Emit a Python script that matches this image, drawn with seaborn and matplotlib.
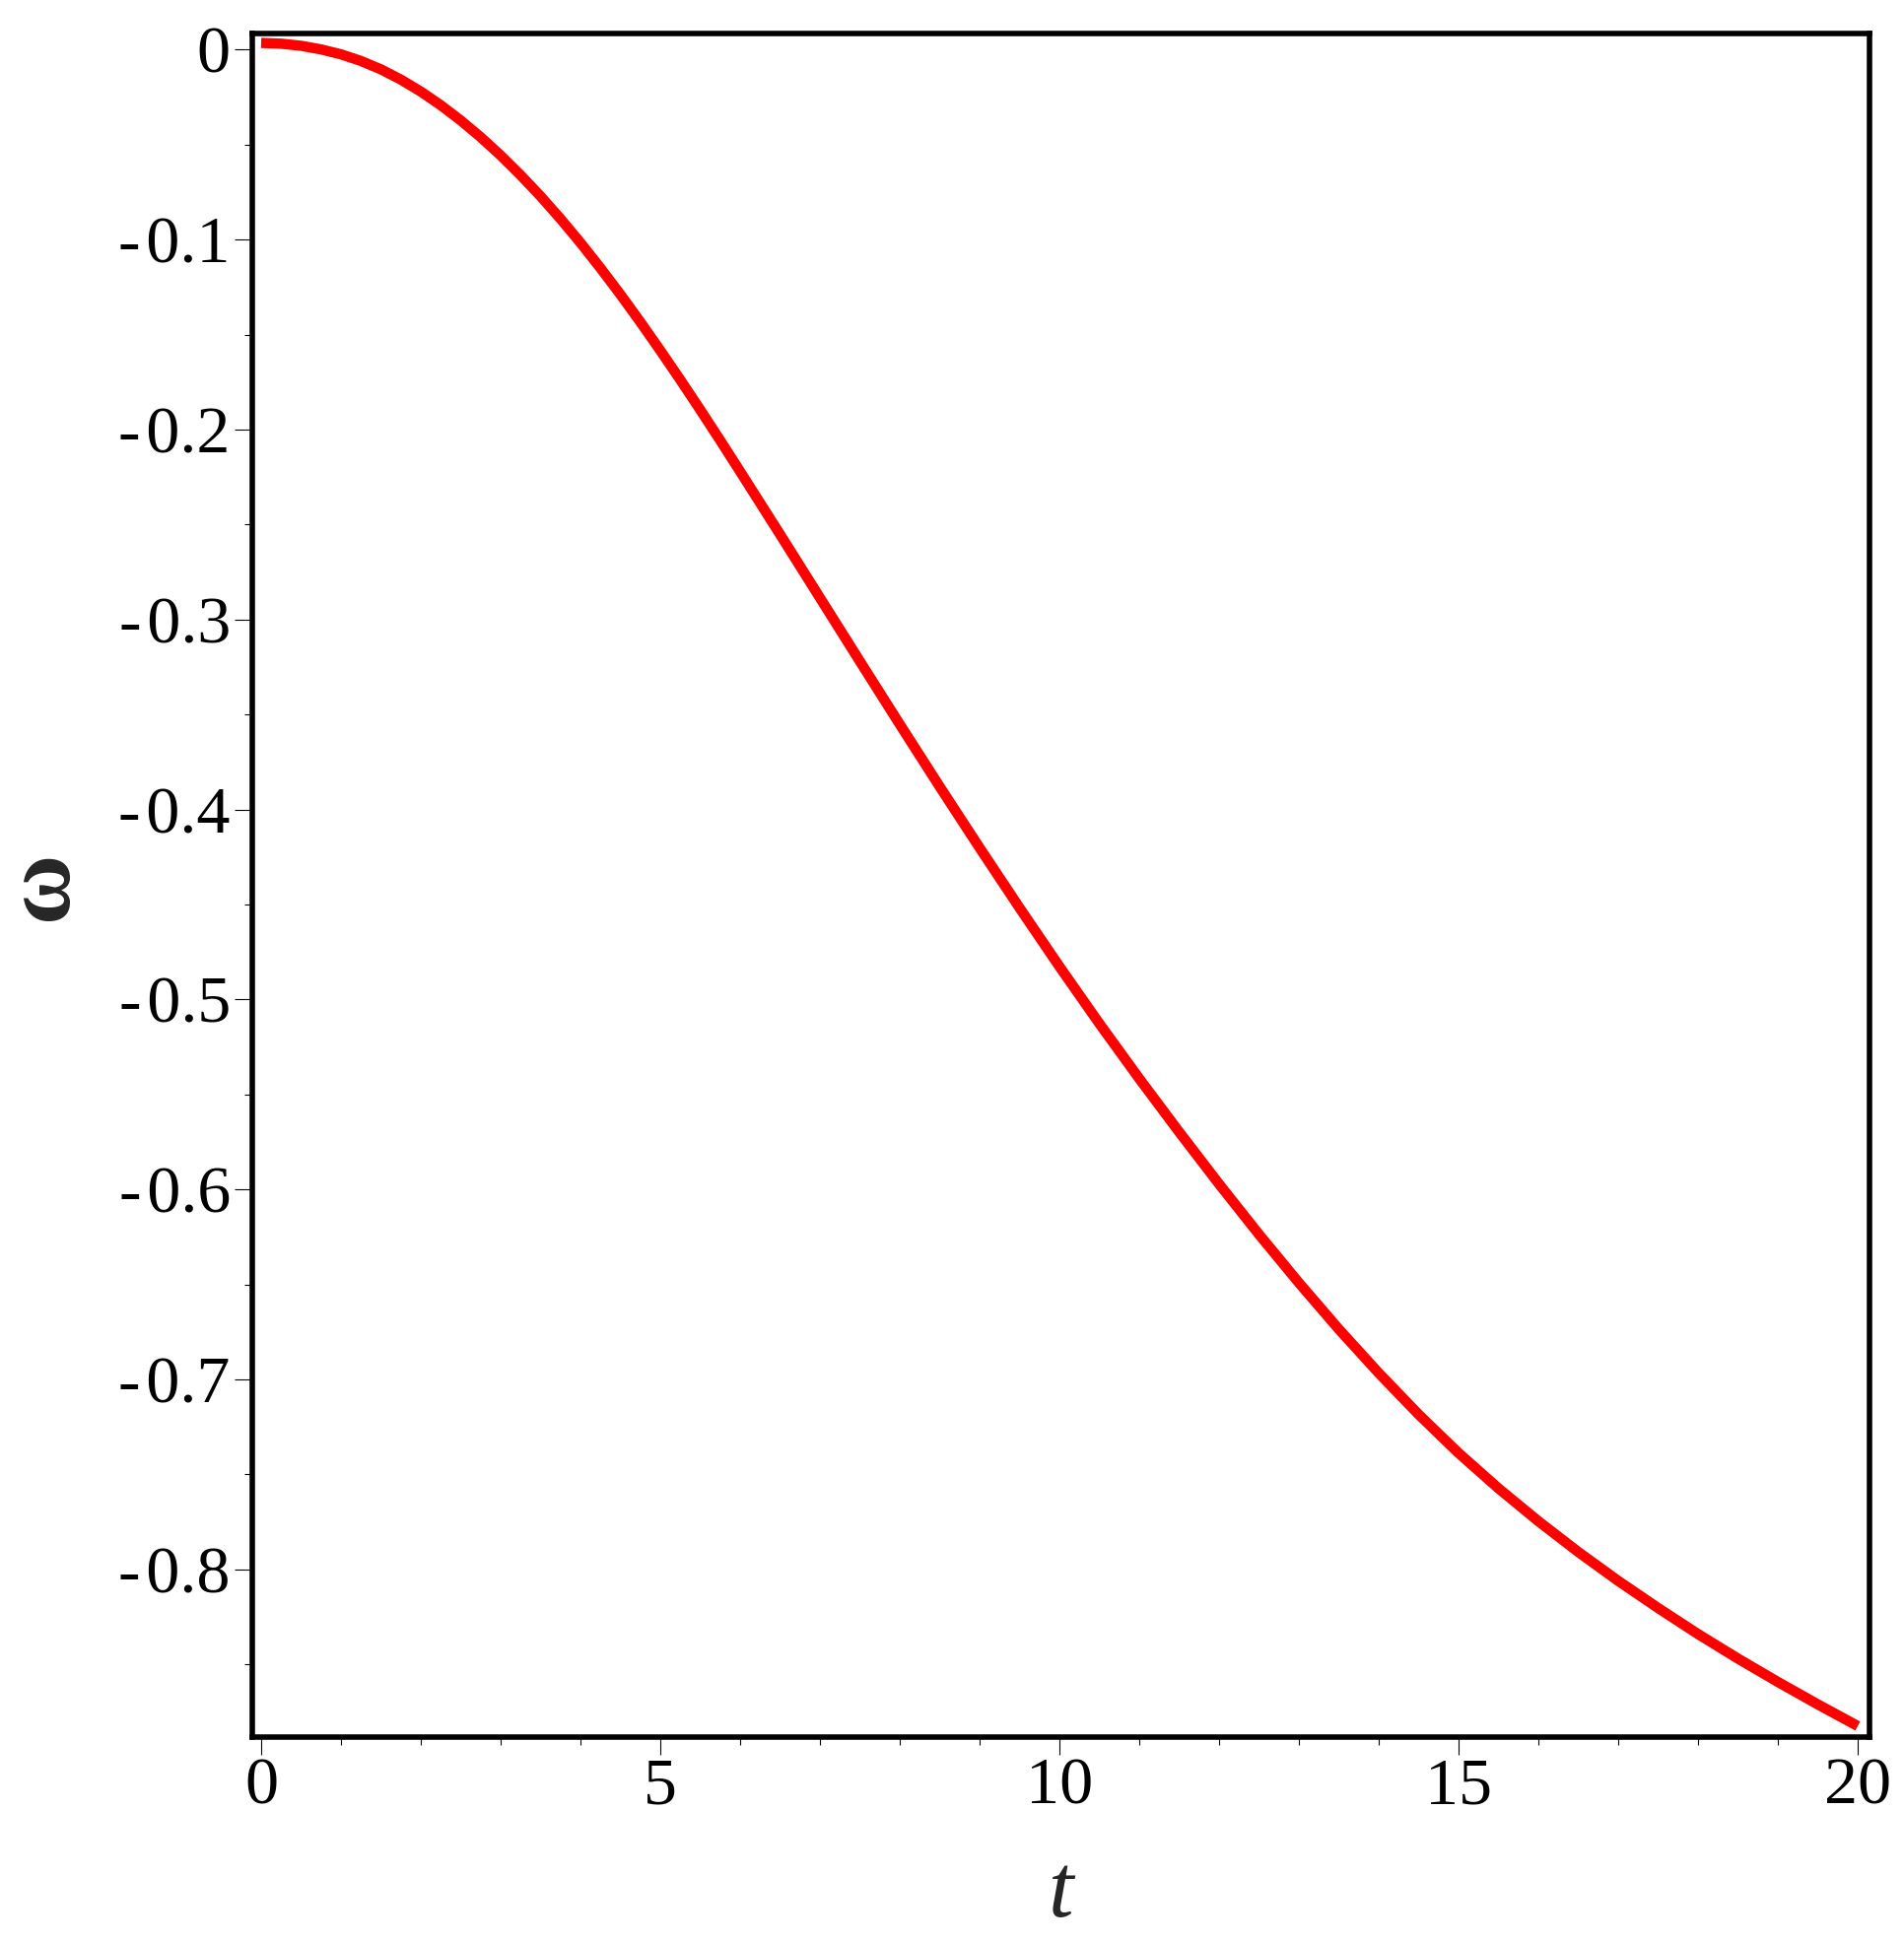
import pandas as pd
import seaborn as sns
import matplotlib
matplotlib.use('Agg')
import matplotlib.pyplot as plt
from matplotlib.ticker import MultipleLocator

# DATA
t_values = [0.0, 0.25, 0.5, 0.75, 1.0, 1.25, 1.5, 1.75, 2.0, 2.25,
            2.5, 2.75, 3.0, 3.25, 3.5, 3.75, 4.0, 4.25, 4.5, 4.75,
            5.0, 5.25, 5.5, 5.75, 6.0, 6.5, 7.0, 7.5, 8.0, 8.5,
            9.0, 9.5, 10.0, 10.5, 11.0, 11.5, 12.0, 12.5, 13.0, 13.5,
            14.0, 14.5, 15.0, 15.5, 16.0, 16.5, 17.0, 17.5, 18.0, 18.5,
            19.0, 19.5, 20.0]
omega_values = [0.0035, 0.0031, 0.0020, 0.0001, -0.0025, -0.0060, -0.0104, -0.0158, -0.0221, -0.0293,
                -0.0373, -0.0461, -0.0557, -0.0661, -0.0772, -0.0891, -0.1017, -0.1150, -0.1289, -0.1434,
                -0.1584, -0.1738, -0.1896, -0.2057, -0.2221, -0.2552, -0.2886, -0.3220, -0.3552, -0.3880,
                -0.4202, -0.4518, -0.4827, -0.5127, -0.5417, -0.5698, -0.5972, -0.6237, -0.6492, -0.6736,
                -0.6967, -0.7185, -0.7388, -0.7574, -0.7747, -0.7909, -0.8061, -0.8204, -0.8341, -0.8470,
                -0.8593, -0.8711, -0.8825]

x_ticks = [0, 5, 10, 15, 20]
x_tick_labels = ['0', '5', '10', '15', '20']
y_ticks = [0, -0.1, -0.2, -0.3, -0.4, -0.5, -0.6, -0.7, -0.8]
y_tick_labels = ['0'] + ['-\u200a0.%d' % k for k in range(1, 9)]

df = pd.DataFrame({'t': t_values, 'omega': omega_values})

# BUILD GRAPH
sns.set_style('ticks')
plt.rcParams['font.family'] = ['Liberation Serif', 'DejaVu Serif']

fig = plt.figure(figsize=(19.32, 19.72), dpi=100)
ax = fig.add_axes([0.1325, 0.106, 0.8494, 0.8768])

sns.lineplot(data=df, x='t', y='omega', ax=ax, color='#ff0000',
             linewidth=7.5, solid_capstyle='butt', estimator=None, sort=False)

ax.set_xlim(-0.111, 20.148)
ax.set_ylim(-0.8883, 0.0085)

for side in ['left', 'right', 'top', 'bottom']:
    ax.spines[side].set_visible(True)
    ax.spines[side].set_color('black')
    ax.spines[side].set_linewidth(4.0)

ax.set_xticks(x_ticks)
ax.set_xticklabels(x_tick_labels)
ax.set_yticks(y_ticks)
ax.set_yticklabels(y_tick_labels)
ax.xaxis.set_minor_locator(MultipleLocator(1))
ax.yaxis.set_minor_locator(MultipleLocator(0.05))

ax.tick_params(axis='both', which='major', direction='out', length=13, width=0.8,
               colors='black', labelsize=49, top=False, right=False)
ax.tick_params(axis='both', which='minor', direction='out', length=6, width=0.8,
               colors='black', top=False, right=False)
ax.tick_params(axis='x', which='major', pad=2)
ax.tick_params(axis='y', which='major', pad=3)

ax.set_xlabel('t', fontsize=66, fontstyle='italic', va='baseline')
ax.xaxis.set_label_coords(0.5, -0.1053)
ax.set_ylabel('ω', fontsize=70, fontweight='bold', va='baseline')
ax.yaxis.set_label_coords(-0.1152, 0.5)

ax.grid(False)

plt.savefig('out.png', dpi=100)
